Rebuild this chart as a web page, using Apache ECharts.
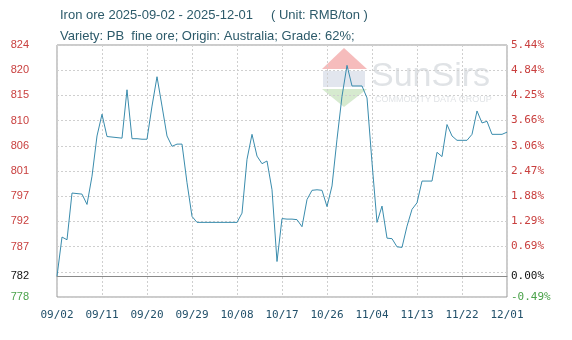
<!DOCTYPE html>
<html>
<head>
<meta charset="utf-8">
<script src="https://cdn.jsdelivr.net/npm/echarts@6/dist/echarts.min.js"></script>
<style>
html,body{margin:0;padding:0;background:#fff;}
#chart{width:572px;height:340px;}
</style>
</head>
<body>
<div id="chart"></div>
<script>
// ---- data ----
const titleText = 'Iron ore 2025-09-02 - 2025-12-01     ( Unit: RMB/ton )';
const subtitleText = 'Variety: PB  fine ore; Origin: Australia; Grade: 62%;';
const startDate = '2025-09-02';
const dayCount = 91;
const prices = [
  782, 789.2, 788.7, 797.3, 797.2, 797.1, 795.2, 800.4, 807.8, 811.8,
  807.7, 807.6, 807.5, 807.4, 816.3, 807.3, 807.3, 807.2, 807.2, 813.3,
  818.7, 813.3, 807.8, 805.9, 806.3, 806.3, 799.2, 793.0, 791.9, 791.9,
  791.9, 791.9, 791.9, 791.9, 791.9, 791.9, 791.9, 793.6, 803.5, 808.1,
  804.1, 802.7, 803.2, 797.9, 784.7, 792.6, 792.5, 792.5, 792.4, 791.1,
  796.1, 797.8, 797.9, 797.8, 794.8, 798.6, 807.2, 815.1, 820.8, 817.0,
  817.0, 817.0, 814.8, 802.9, 791.9, 794.9, 789.0, 788.9, 787.4, 787.3,
  791.2, 794.3, 795.5, 799.5, 799.5, 799.5, 804.8, 804.0, 809.9, 807.8,
  807.0, 807.0, 807.0, 808.1, 812.4, 810.2, 810.5, 808.1, 808.1, 808.1,
  808.5
];
const basePrice = 782;
const pctMin = -0.49;
const pctMax = 5.44;
const gridDivisions = 10;
// tick labels, bottom to top (empty = no label on that grid line)
const leftTickLabels = ['778', '', '787', '792', '797', '801', '806', '810', '815', '820', '824'];
const rightTickLabels = ['-0.49%', '', '0.69%', '1.29%', '1.88%', '2.47%', '3.06%', '3.66%', '4.25%', '4.84%', '5.44%'];
const baseLeftLabel = '782';
const baseRightLabel = '0.00%';

// ---- build ----
const dates = [];
(function(){
  const d0 = new Date(startDate + 'T00:00:00Z');
  for (let i = 0; i < dayCount; i++) {
    const d = new Date(d0.getTime() + i * 86400000);
    const mm = String(d.getUTCMonth() + 1).padStart(2, '0');
    const dd = String(d.getUTCDate()).padStart(2, '0');
    dates.push(mm + '/' + dd);
  }
})();

const yMin = basePrice * (1 + pctMin / 100);
const yMax = basePrice * (1 + pctMax / 100);
const leftGridVals = [];
const rightGridVals = [];
for (let k = 0; k <= gridDivisions; k++) {
  leftGridVals.push(yMin + (yMax - yMin) * k / gridDivisions);
  rightGridVals.push(pctMin + (pctMax - pctMin) * k / gridDivisions);
}
const leftLabelVals = [], leftLabelTxt = [];
const rightLabelVals = [], rightLabelTxt = [];
leftTickLabels.forEach((t, k) => { if (t) { leftLabelVals.push(leftGridVals[k]); leftLabelTxt.push(t); } });
rightTickLabels.forEach((t, k) => { if (t) { rightLabelVals.push(rightGridVals[k]); rightLabelTxt.push(t); } });
leftLabelVals.push(basePrice); leftLabelTxt.push(baseLeftLabel);
rightLabelVals.push(0); rightLabelTxt.push(baseRightLabel);

function nearestIdx(arr, v) {
  let best = 0, bd = Infinity;
  arr.forEach((a, i) => { const d = Math.abs(a - v); if (d < bd) { bd = d; best = i; } });
  return best;
}
function styleKey(v, ref) {
  if (Math.abs(v - ref) < 1e-6) return 'k';
  return v > ref ? 'r' : 'g';
}
const RED = '#c9403f', GREEN = '#4aa24a', BLACK = '#111';
const richL = {
  r: {color: RED, fontSize: 11, fontFamily: 'Liberation Sans'},
  g: {color: GREEN, fontSize: 11, fontFamily: 'Liberation Sans'},
  k: {color: BLACK, fontSize: 11, fontFamily: 'Liberation Sans'}
};
const richR = {
  r: {color: RED, fontSize: 11, fontFamily: 'DejaVu Sans Mono'},
  g: {color: GREEN, fontSize: 11, fontFamily: 'DejaVu Sans Mono'},
  k: {color: BLACK, fontSize: 11, fontFamily: 'DejaVu Sans Mono'}
};

const chart = echarts.init(document.getElementById('chart'), null, {renderer: 'canvas'});
const option = {
  animation: false,
  backgroundColor: '#fff',
  title: [
    {text: titleText, left: 55, top: 4,
     textStyle: {fontSize: 13, fontWeight: 'normal', color: '#2c5a6a', fontFamily: 'Liberation Sans'}},
    {text: subtitleText, left: 55, top: 25,
     textStyle: {fontSize: 13, fontWeight: 'normal', color: '#2c5a6a', fontFamily: 'Liberation Sans'}}
  ],
  graphic: [
    {type: 'polygon', z: 0, silent: true, shape: {points: [[344, 48], [322, 69], [367, 69]]}, style: {fill: '#f6bcbc'}},
    {type: 'rect', z: 0, silent: true, shape: {x: 323, y: 71, width: 42, height: 16}, style: {fill: '#e2e6ee'}},
    {type: 'polygon', z: 0, silent: true, shape: {points: [[322, 89], [367, 89], [344, 107]]}, style: {fill: '#d6eacf'}},
    {type: 'text', z: 0, silent: true, style: {text: 'SunSirs', x: 371, y: 60, fill: '#e0e3e6', fontSize: 34, fontFamily: 'Liberation Sans'}},
    {type: 'text', z: 0, silent: true, style: {text: 'COMMODITY DATA GROUP', x: 375, y: 95, fill: '#e0e3e6', fontSize: 9, fontFamily: 'Liberation Sans'}}
  ],
  grid: {left: 57, right: 65, top: 45, bottom: 43, show: true, borderColor: '#999', borderWidth: 1, backgroundColor: 'transparent'},
  xAxis: {
    type: 'category',
    data: dates,
    boundaryGap: false,
    axisLine: {show: true, lineStyle: {color: '#999'}},
    axisTick: {show: false},
    axisLabel: {interval: 8, color: '#22506a', fontSize: 11, fontFamily: 'DejaVu Sans Mono', margin: 13},
    splitLine: {show: true, interval: 8, lineStyle: {color: '#cfcfcf', type: [2, 2], width: 1}}
  },
  yAxis: [
    {
      type: 'value', position: 'left', min: yMin, max: yMax,
      axisLine: {show: false},
      axisTick: {show: false, customValues: leftGridVals},
      splitLine: {show: true, lineStyle: {color: '#cfcfcf', type: [2, 2], width: 1}},
      axisLabel: {
        customValues: leftLabelVals, margin: 28,
        formatter: function (v) { const i = nearestIdx(leftLabelVals, v); return '{' + styleKey(leftLabelVals[i], basePrice) + '|' + leftLabelTxt[i] + '}'; },
        rich: richL
      }
    },
    {
      type: 'value', position: 'right', min: pctMin, max: pctMax,
      axisLine: {show: false},
      axisTick: {show: false, customValues: rightGridVals},
      splitLine: {show: false},
      axisLabel: {
        customValues: rightLabelVals, margin: 4,
        formatter: function (v) { const i = nearestIdx(rightLabelVals, v); return '{' + styleKey(rightLabelVals[i], 0) + '|' + rightLabelTxt[i] + '}'; },
        rich: richR
      }
    }
  ],
  series: [{
    type: 'line',
    data: prices,
    yAxisIndex: 0,
    showSymbol: false,
    symbol: 'none',
    lineStyle: {color: '#3a8cad', width: 1},
    itemStyle: {color: '#3a8cad'},
    z: 5,
    markLine: {
      silent: true, symbol: 'none', animation: false,
      label: {show: false},
      lineStyle: {color: '#8a8a8a', type: 'solid', width: 1},
      data: [{yAxis: basePrice}]
    }
  }]
};
chart.setOption(option);
</script>
</body>
</html>
